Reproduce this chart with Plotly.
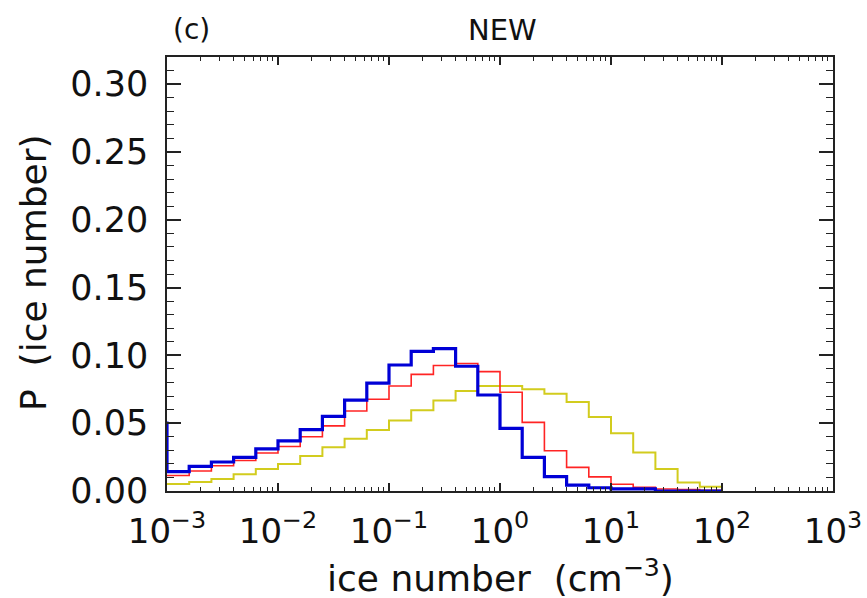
import plotly.graph_objects as go

# Bin edges: 5 bins per decade, from 10^-3.2 (underflow bin) to 10^2
edge_exponents = [-3.2, -3.0, -2.8, -2.6, -2.4, -2.2, -2.0, -1.8, -1.6, -1.4, -1.2,
                  -1.0, -0.8, -0.6, -0.4, -0.2, 0.0, 0.2, 0.4, 0.6, 0.8,
                  1.0, 1.2, 1.4, 1.6, 1.8, 2.0]

# Values per bin (first value = underflow bin 10^-3.2..10^-3)
blue_vals = [0.050, 0.0143, 0.0182, 0.0214, 0.0248, 0.0311, 0.0370, 0.0452, 0.0550,
             0.0670, 0.0796, 0.0929, 0.1030, 0.1050, 0.0920, 0.0708, 0.0462,
             0.0248, 0.0106, 0.0044, 0.0024, 0.0015, 0.0015, 0.0, 0.0, 0.0]
red_vals = [None, 0.0114, 0.0148, 0.0186, 0.0225, 0.0280, 0.0328, 0.0400, 0.0480,
            0.0590, 0.0676, 0.0774, 0.0860, 0.0925, 0.0940, 0.0880, 0.0728,
            0.0506, 0.0297, 0.0174, 0.0104, 0.0050, 0.0027, 0.0015, 0.0010, 0.0005]
yellow_vals = [None, 0.0052, 0.0066, 0.0088, 0.0123, 0.0162, 0.0199, 0.0258, 0.0322,
               0.0386, 0.0450, 0.0520, 0.0595, 0.0667, 0.0738, 0.0774, 0.0774,
               0.0750, 0.0717, 0.0656, 0.0546, 0.0425, 0.0284, 0.0162, 0.0063, 0.0031]

x_tickvals = [1e-3, 1e-2, 1e-1, 1e0, 1e1, 1e2, 1e3]
x_ticktext = ["10<sup>\u22123</sup>", "10<sup>\u22122</sup>", "10<sup>\u22121</sup>",
              "10<sup>0</sup>", "10<sup>1</sup>", "10<sup>2</sup>", "10<sup>3</sup>"]
y_tickvals = [0.00, 0.05, 0.10, 0.15, 0.20, 0.25, 0.30]

edges = [10 ** e for e in edge_exponents]


def step_xy(vals):
    xs, ys = [], []
    for i, v in enumerate(vals):
        if v is None:
            continue
        xs.append(edges[i])
        ys.append(v)
    xs.append(edges[len(vals)])
    ys.append(ys[-1])
    return xs, ys


FONT = "DejaVu Sans, Liberation Sans, Arial, sans-serif"
INK = "#111"
fig = go.Figure()
for vals, color, width in [(yellow_vals, "#D2CC1E", 2),
                           (red_vals, "#FF2424", 1.6),
                           (blue_vals, "#0000D6", 3.2)]:
    xs, ys = step_xy(vals)
    fig.add_trace(go.Scatter(x=xs, y=ys, mode="lines", line_shape="hv",
                             line=dict(color=color, width=width),
                             showlegend=False, hoverinfo="skip"))

axis_common = dict(showline=True, linecolor="#222", linewidth=1.5, mirror="ticks",
                   ticks="inside", tickcolor="#222", tickwidth=1.5, showgrid=False,
                   zeroline=False, automargin=False)

fig.update_xaxes(type="log", range=[-3, 3], tickvals=x_tickvals, ticktext=x_ticktext,
                 ticklen=8, tickfont=dict(family=FONT, size=34, color=INK),
                 minor=dict(ticks="inside", ticklen=4, tickcolor="#222", tickwidth=1.2,
                            dtick="D1", showgrid=False),
                 ticklabelstandoff=9,
                 **axis_common)
fig.update_yaxes(range=[0, 0.32], tickvals=y_tickvals, tickformat=".2f", ticklen=14,
                 tickfont=dict(family=FONT, size=35, color=INK),
                 minor=dict(ticks="inside", ticklen=7, tickcolor="#222", tickwidth=1.2,
                            dtick=0.01, showgrid=False),
                 ticklabelstandoff=10,
                 **axis_common)

# plot area in pixels: x 167..833, y 57..491
W, H = 867, 598
PL, PR, PT, PB = 167, 833, 57, 491


def px(x):
    return (x - PL) / (PR - PL)


def py(y):
    return (PB - y) / (PB - PT)


def label(text, x, y, size, angle=0):
    return dict(text=text, xref="paper", yref="paper", x=px(x), y=py(y),
                xanchor="center", yanchor="middle", textangle=angle,
                showarrow=False, font=dict(family=FONT, size=size, color=INK))


fig.update_layout(
    width=W, height=H,
    margin=dict(l=PL, r=W - PR, t=PT, b=H - PB),
    paper_bgcolor="white", plot_bgcolor="white",
    annotations=[
        label("NEW", 502, 30, 29),
        label("(c)", 191, 29, 28),
        label("ice number  (cm<sup>\u22123</sup>)", 500, 576, 36),
        label("P  (ice number)", 33, 273, 36, angle=-90),
    ],
)

fig.write_html("out.html", config={"displayModeBar": False},
               post_script="document.body.style.margin='0';document.body.style.padding='0';")
